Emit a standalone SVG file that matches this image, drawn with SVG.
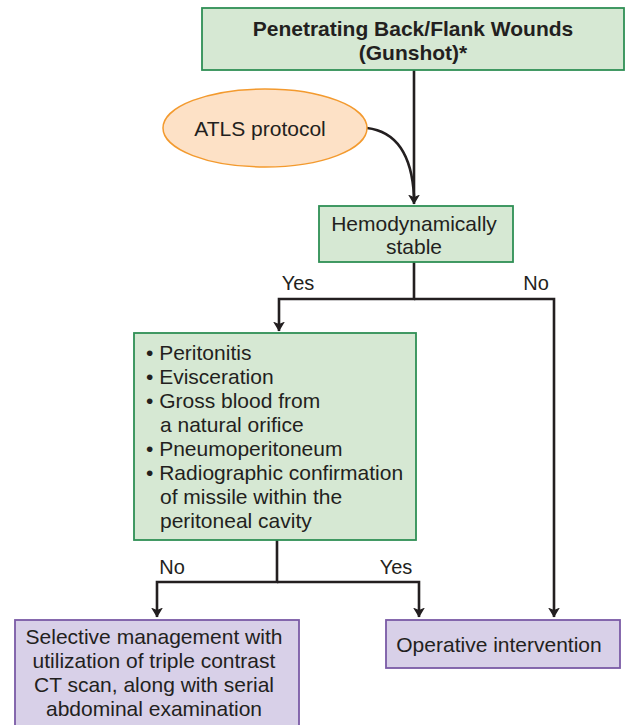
<svg xmlns="http://www.w3.org/2000/svg" width="630" height="725" viewBox="0 0 630 725">
<style>
text{font-family:"Liberation Sans",Arial,sans-serif;font-size:21px;fill:#231f20}
.g{fill:#d6e8d3;stroke:#2f8f55;stroke-width:1.8}
.p{fill:#d8d0e8;stroke:#7a5aa6;stroke-width:1.8}
.o{fill:#fde1c6;stroke:#f39a2e;stroke-width:1.5}
.c{fill:none;stroke:#231f20;stroke-width:2.6}
.m{text-anchor:middle}
.l{font-size:20px}
</style>
<defs>
<marker id="ah" viewBox="0 0 10 12" refX="9.5" refY="6" markerWidth="10" markerHeight="12" markerUnits="userSpaceOnUse" orient="auto">
<path d="M0,0 L10,6 L0,12 L2.5,6 Z" fill="#231f20"/>
</marker>
</defs>
<g id="connectors">
<path class="c" d="M414,70 V204" marker-end="url(#ah)"/>
<path class="c" d="M367,128 C400,132 412,160 414,196"/>
<path class="c" d="M414,262 V299 H279 V331" marker-end="url(#ah)"/>
<path class="c" d="M414,299 H554 V617" marker-end="url(#ah)"/>
<path class="c" d="M277,540 V582 H157 V617" marker-end="url(#ah)"/>
<path class="c" d="M277,582 H419 V617" marker-end="url(#ah)"/>
<text x="298" y="290" class="m l">Yes</text>
<text x="536" y="290" class="m l">No</text>
<text x="172" y="574" class="m l">No</text>
<text x="396" y="574" class="m l">Yes</text>
</g>
<g id="start">
<rect class="g" x="202" y="8" width="422" height="62"/>
<text x="413" y="36" class="m" font-weight="bold">Penetrating Back/Flank Wounds</text>
<text x="413" y="60" class="m" font-weight="bold">(Gunshot)*</text>
</g>
<g id="atls">
<ellipse class="o" cx="265" cy="128" rx="102" ry="39"/>
<text x="260" y="136" class="m">ATLS protocol</text>
</g>
<g id="stable">
<rect class="g" x="319" y="206" width="194" height="56"/>
<text x="414" y="231" class="m">Hemodynamically</text>
<text x="414" y="254" class="m">stable</text>
</g>
<g id="criteria">
<rect class="g" x="134" y="333" width="282" height="207"/>
<text x="146" y="360">• Peritonitis</text>
<text x="146" y="384">• Evisceration</text>
<text x="146" y="408">• Gross blood from</text>
<text x="160" y="432">a natural orifice</text>
<text x="146" y="456">• Pneumoperitoneum</text>
<text x="146" y="480">• Radiographic confirmation</text>
<text x="160" y="504">of missile within the</text>
<text x="160" y="528">peritoneal cavity</text>
</g>
<g id="selective">
<rect class="p" x="15" y="620" width="284" height="110"/>
<text x="154" y="644" class="m">Selective management with</text>
<text x="154" y="668" class="m">utilization of triple contrast</text>
<text x="154" y="692" class="m">CT scan, along with serial</text>
<text x="154" y="716" class="m">abdominal examination</text>
</g>
<g id="operative">
<rect class="p" x="386" y="620" width="234" height="48"/>
<text x="499" y="652" class="m">Operative intervention</text>
</g>
</svg>
